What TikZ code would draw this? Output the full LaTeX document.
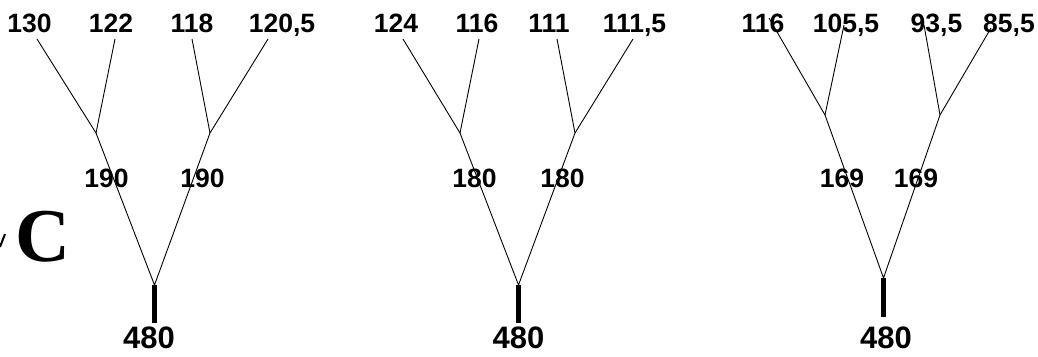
\documentclass[tikz,border=0pt]{standalone}
\usepackage{fontspec}
\setmainfont{Liberation Sans}
\newfontfamily\serifbig{Liberation Serif}
\begin{document}
\begin{tikzpicture}[x=1pt,y=-1pt,
  lab/.style={inner sep=0pt,anchor=base,font=\fontsize{26.5}{30}\selectfont\bfseries},
  rootlab/.style={inner sep=0pt,anchor=base,font=\fontsize{31}{36}\selectfont\bfseries},
  branch/.style={line width=0.9pt,black},
  stem/.style={line width=5pt,black}]
\useasboundingbox (0,0) rectangle (1038,356);
% big letter
\node[inner sep=0pt,anchor=base,font=\fontsize{76}{86}\selectfont\serifbig\bfseries] (C) at (43,261) {C};
\coordinate (g1) at (0,247);
\coordinate (g2) at (5,234);
\draw[line width=2pt] (g1) -- (g2);
% ---------- tree 1
\node[lab] (a1) at (29.5,32) {130};
\node[lab] (a2) at (111,32) {122};
\node[lab] (a3) at (192,32) {118};
\node[lab] (a4) at (282,32) {120,5};
\node[lab] (am1) at (106.5,187) {190};
\node[lab] (am2) at (202.5,187) {190};
\node[rootlab] (ar) at (149,348) {480};
\coordinate (al1) at (37,39);
\coordinate (al2) at (115,39);
\coordinate (al3) at (192,39);
\coordinate (al4) at (268,39);
\coordinate (aj1) at (96,133);
\coordinate (aj2) at (210,133);
\coordinate (at) at (154.5,285);
\coordinate (ab) at (154.5,323);
\draw[branch] (al1) -- (aj1) -- (at) -- (aj2) -- (al4);
\draw[branch] (al2) -- (aj1);
\draw[branch] (al3) -- (aj2);
\draw[stem] (at) -- (ab);
% ---------- tree 2
\node[lab] (b1) at (396,32) {124};
\node[lab] (b2) at (477,32) {116};
\node[lab] (b3) at (549,32) {111};
\node[lab] (b4) at (634.5,32) {111,5};
\node[lab] (bm1) at (474.5,187) {180};
\node[lab] (bm2) at (562.5,187) {180};
\node[rootlab] (br) at (518.5,348) {480};
\coordinate (bl1) at (403,39);
\coordinate (bl2) at (479,39);
\coordinate (bl3) at (557,39);
\coordinate (bl4) at (633,39);
\coordinate (bj1) at (460,133);
\coordinate (bj2) at (575,133);
\coordinate (bt) at (518.5,285);
\coordinate (bb) at (518.5,323);
\draw[branch] (bl1) -- (bj1) -- (bt) -- (bj2) -- (bl4);
\draw[branch] (bl2) -- (bj1);
\draw[branch] (bl3) -- (bj2);
\draw[stem] (bt) -- (bb);
% ---------- tree 3
\node[lab] (c1) at (763,32) {116};
\node[lab] (c2) at (846,32) {105,5};
\node[lab] (c3) at (936.5,32) {93,5};
\node[lab] (c4) at (1009,32) {85,5};
\node[lab] (cm1) at (842,187) {169};
\node[lab] (cm2) at (916,187) {169};
\node[rootlab] (cr) at (886,348) {480};
\coordinate (cl1) at (769,18);
\coordinate (cl2) at (844,25);
\coordinate (cl3) at (924,25);
\coordinate (cl4) at (991,28);
\coordinate (cj1) at (825,115);
\coordinate (cj2) at (940,115);
\coordinate (ct) at (883.5,278);
\coordinate (cb) at (883.5,317);
\draw[branch] (cl1) -- (cj1) -- (ct) -- (cj2) -- (cl4);
\draw[branch] (cl2) -- (cj1);
\draw[branch] (cl3) -- (cj2);
\draw[stem] (ct) -- (cb);
\end{tikzpicture}
\end{document}
